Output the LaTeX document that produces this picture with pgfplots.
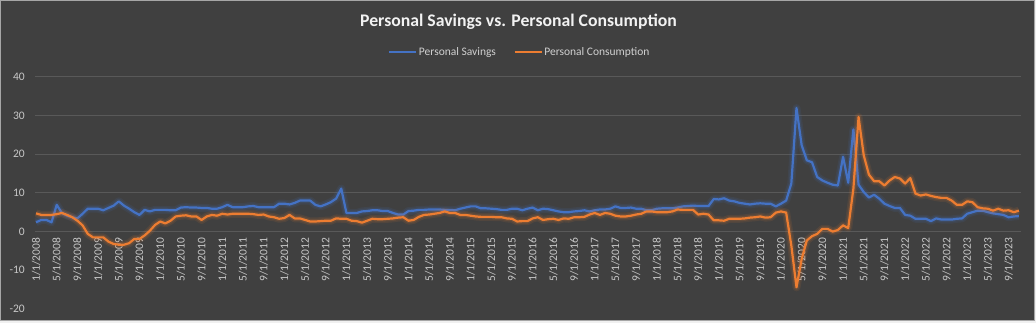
\documentclass[border=0pt]{standalone}
\usepackage{pgfplots}
\pgfplotsset{compat=1.18}
\usepackage{pgfplotstable}
\usepackage{fontspec}
\setmainfont{Carlito}
\definecolor{bgdark}{HTML}{404040}
\definecolor{gridc}{HTML}{595959}
\definecolor{savblue}{HTML}{4472C4}
\definecolor{conorange}{HTML}{ED7D31}
\definecolor{titlec}{HTML}{F2F2F2}
\definecolor{labelc}{HTML}{C8C8C8}
\definecolor{legc}{HTML}{D0D0D0}
\pgfplotstableread{
i s c
0 2.4 4.7
1 3.0 4.3
2 3.0 4.3
3 2.4 4.3
4 6.9 4.5
5 4.8 4.8
6 4.1 4.3
7 3.7 3.7
8 3.4 2.8
9 4.6 1.6
10 5.9 -0.6
11 5.9 -1.5
12 5.9 -1.5
13 5.5 -1.5
14 6.1 -2.6
15 6.7 -3.2
16 7.8 -3.4
17 6.7 -3.4
18 5.9 -3.0
19 5.0 -1.9
20 4.3 -1.9
21 5.6 -1.0
22 5.2 0.2
23 5.6 1.7
24 5.6 2.6
25 5.6 2.1
26 5.5 2.8
27 5.5 3.9
28 6.2 4.1
29 6.3 4.2
30 6.2 3.9
31 6.2 3.9
32 6.1 3.0
33 6.1 3.9
34 5.9 4.3
35 5.9 4.1
36 6.3 4.6
37 6.9 4.4
38 6.3 4.6
39 6.3 4.6
40 6.3 4.6
41 6.5 4.6
42 6.6 4.5
43 6.3 4.3
44 6.3 4.4
45 6.3 3.9
46 6.3 3.7
47 7.2 3.3
48 7.2 3.5
49 7.0 4.3
50 7.4 3.4
51 8.0 3.4
52 8.0 3.0
53 8.0 2.6
54 6.9 2.6
55 6.5 2.7
56 7.0 2.8
57 7.6 2.8
58 8.5 3.4
59 11.1 3.3
60 4.8 3.3
61 4.8 2.8
62 4.8 2.7
63 5.2 2.3
64 5.3 2.8
65 5.5 3.3
66 5.5 3.2
67 5.3 3.2
68 5.3 3.3
69 4.8 3.4
70 4.4 3.6
71 4.4 3.7
72 5.3 2.8
73 5.4 3.0
74 5.6 3.8
75 5.6 4.3
76 5.7 4.4
77 5.7 4.6
78 5.7 4.8
79 5.6 5.2
80 5.6 4.8
81 5.5 4.8
82 5.9 4.3
83 6.2 4.3
84 6.5 4.1
85 6.5 3.9
86 6.0 3.8
87 6.0 3.8
88 5.9 3.8
89 5.8 3.7
90 5.6 3.7
91 5.6 3.4
92 5.9 3.3
93 5.9 2.6
94 5.5 2.7
95 5.9 2.7
96 6.2 3.4
97 5.5 3.7
98 5.9 3.0
99 5.8 3.2
100 5.5 3.3
101 5.2 3.0
102 5.0 3.4
103 5.0 3.3
104 5.2 3.7
105 5.3 3.7
106 5.5 3.8
107 5.2 4.4
108 5.5 4.8
109 5.7 4.3
110 5.7 4.8
111 5.9 4.6
112 6.5 4.1
113 6.1 3.9
114 6.1 3.9
115 6.2 4.1
116 5.9 4.4
117 5.9 4.6
118 5.5 5.2
119 5.5 5.2
120 5.9 5.0
121 6.0 5.0
122 6.0 5.0
123 6.0 5.2
124 6.2 5.7
125 6.5 5.6
126 6.6 5.6
127 6.7 5.6
128 6.6 4.4
129 6.6 4.6
130 6.6 4.4
131 8.4 2.9
132 8.3 2.9
133 8.6 2.8
134 8.0 3.3
135 7.8 3.3
136 7.4 3.3
137 7.2 3.4
138 7.0 3.6
139 7.2 3.7
140 7.3 3.9
141 7.2 3.6
142 7.2 3.7
143 6.5 4.9
144 7.2 5.2
145 8.0 4.9
146 12.4 -3.6
147 31.9 -14.4
148 22.3 -7.1
149 18.4 -2.3
150 17.9 -1.2
151 14.1 -0.6
152 13.2 0.7
153 12.6 0.7
154 12.1 0.0
155 11.9 0.4
156 19.3 1.6
157 12.6 0.9
158 26.4 11.1
159 12.1 29.6
160 10.2 19.7
161 8.8 14.7
162 9.5 13.0
163 8.5 13.0
164 7.2 11.9
165 6.6 13.2
166 6.1 14.1
167 6.1 13.7
168 4.3 12.4
169 4.1 13.8
170 3.3 9.8
171 3.3 9.3
172 3.3 9.6
173 2.7 9.2
174 3.4 8.9
175 3.1 8.7
176 3.1 8.7
177 3.1 8.0
178 3.3 6.9
179 3.4 6.9
180 4.6 7.8
181 5.0 7.6
182 5.4 6.3
183 5.4 6.0
184 5.0 5.9
185 4.7 5.4
186 4.5 5.9
187 4.3 5.4
188 3.7 5.5
189 3.9 5.0
190 4.0 5.4
}\datatable
\begin{document}
\begin{tikzpicture}[x=1pt,y=1pt]
\fill[white!94!black] (0pt,0pt) rectangle (1036pt,323pt);
\filldraw[fill=bgdark, draw=gray!70, line width=1pt] (0.5pt,322.5pt) rectangle (1034pt,2pt);
\node[anchor=base, font=\bfseries\fontsize{17.7}{20}\selectfont, text=titlec] at (518.5pt,296.3pt) {Personal Savings vs. Personal Consumption};
\begin{axis}[
  at={(35pt,14pt)}, anchor=south west,
  width=986pt, height=232.3pt, scale only axis,
  xmin=-0.2, xmax=190.4, ymin=-20, ymax=40,
  axis x line*=middle, axis y line*=left,
  axis line style={draw=none},
  hide obscured x ticks=false, hide obscured y ticks=false,
  tick style={draw=none}, major tick length=0pt,
  ytick={-20,-10,0,10,20,30,40},
  yticklabels={-20,-10,0,10,20,30,40},
  extra y ticks={0,10,20,30,40}, extra y tick labels={},
  extra y tick style={ymajorgrids=true, grid style={gridc, line width=1pt}},
  yticklabel style={font=\fontsize{11.5}{13}\selectfont, text=labelc, inner sep=0pt, anchor=east, xshift=-10pt},
  xtick={0,4,...,188},
  xticklabels={1/1/2008,5/1/2008,9/1/2008,1/1/2009,5/1/2009,9/1/2009,1/1/2010,5/1/2010,9/1/2010,1/1/2011,5/1/2011,9/1/2011,1/1/2012,5/1/2012,9/1/2012,1/1/2013,5/1/2013,9/1/2013,1/1/2014,5/1/2014,9/1/2014,1/1/2015,5/1/2015,9/1/2015,1/1/2016,5/1/2016,9/1/2016,1/1/2017,5/1/2017,9/1/2017,1/1/2018,5/1/2018,9/1/2018,1/1/2019,5/1/2019,9/1/2019,1/1/2020,5/1/2020,9/1/2020,1/1/2021,5/1/2021,9/1/2021,1/1/2022,5/1/2022,9/1/2022,1/1/2023,5/1/2023,9/1/2023},
  xticklabel style={font=\fontsize{11.5}{13}\selectfont, text=labelc, inner sep=0pt, yshift=-6pt, rotate=90, anchor=east},
  clip=false,
  legend style={at={(0.4914,1.106)}, anchor=center, draw=none, fill=none,
    legend columns=2, font=\fontsize{11.5}{13}\selectfont, text=legc,
    nodes={inner sep=1.5pt},
    /tikz/every even column/.append style={column sep=16pt}},
  legend image code/.code={\draw[#1, line width=2.4pt] (0pt,0pt) -- (27pt,0pt);},
]
\addplot[forget plot, savblue, line width=8pt, opacity=0.10, line join=round] table[x=i,y=s]{\datatable};
\addplot[forget plot, savblue, line width=5pt, opacity=0.15, line join=round] table[x=i,y=s]{\datatable};
\addplot[savblue, line width=2.2pt, line join=round] table[x=i,y=s]{\datatable};
\addlegendentry{Personal Savings}
\addplot[forget plot, conorange, line width=8pt, opacity=0.10, line join=round] table[x=i,y=c]{\datatable};
\addplot[forget plot, conorange, line width=5pt, opacity=0.15, line join=round] table[x=i,y=c]{\datatable};
\addplot[conorange, line width=2.2pt, line join=round] table[x=i,y=c]{\datatable};
\addlegendentry{Personal Consumption}
\end{axis}
\end{tikzpicture}
\end{document}
